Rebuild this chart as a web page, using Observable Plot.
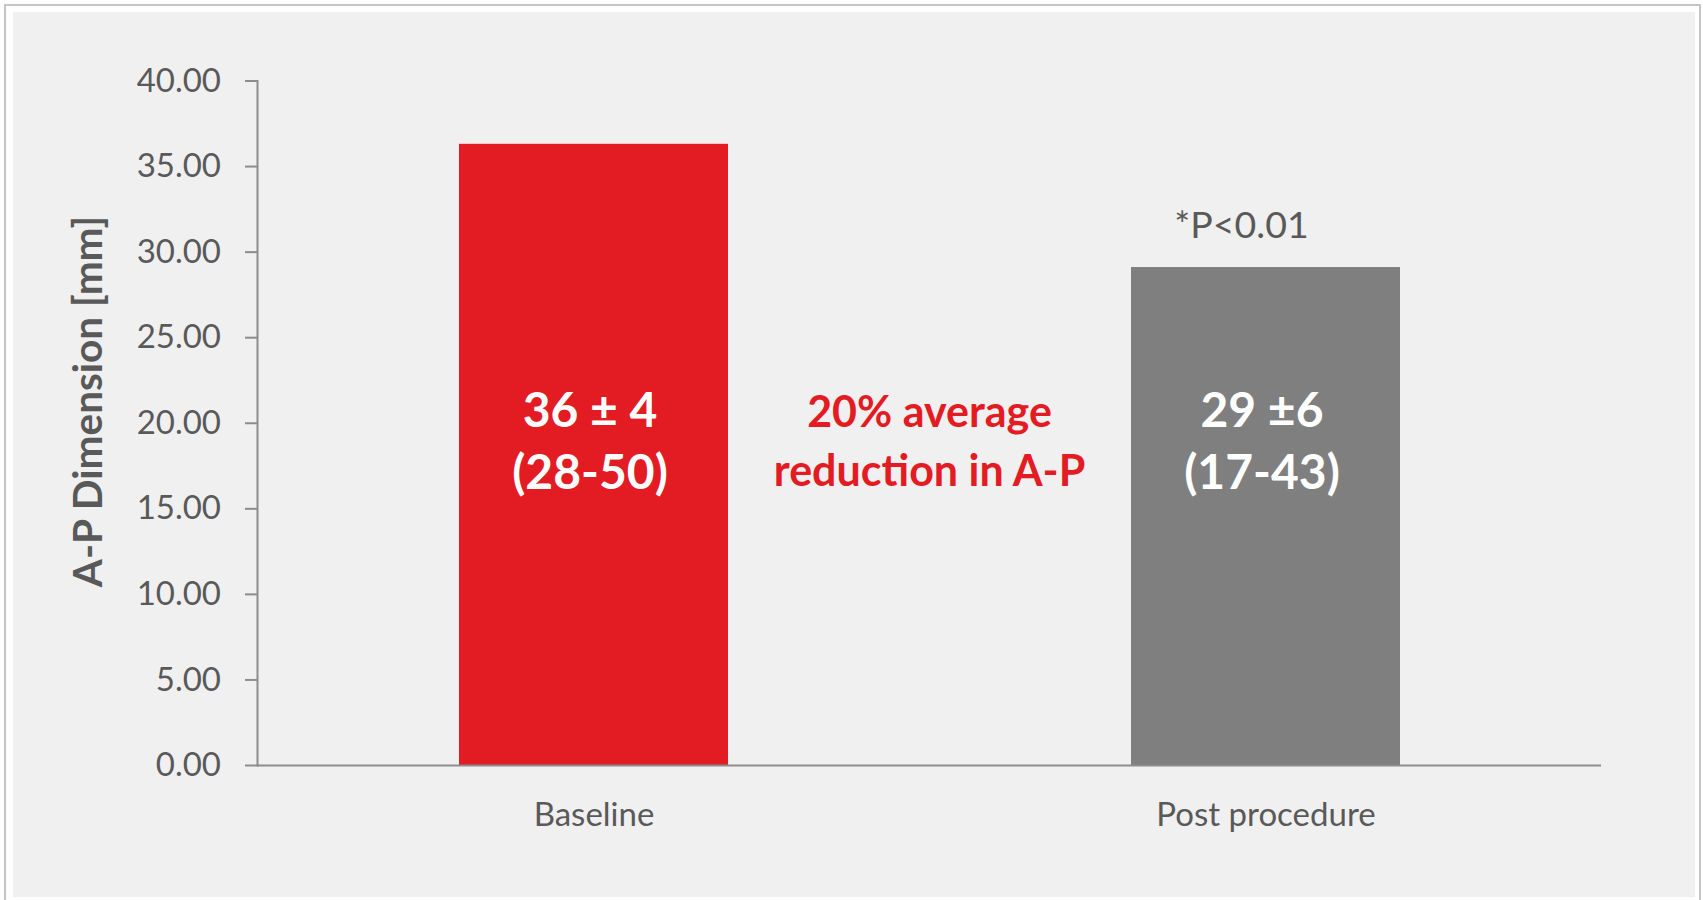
<!DOCTYPE html>
<html>
<head>
<meta charset="utf-8">
<script src="https://cdn.jsdelivr.net/npm/d3@7"></script>
<script src="https://cdn.jsdelivr.net/npm/@observablehq/plot@0.6"></script>
<style>
  html, body { margin: 0; padding: 0; background: #ffffff; }
  body { width: 1703px; height: 900px; overflow: hidden; position: relative; font-family: Lato, sans-serif; }
  #border { position: absolute; left: 4px; top: 4px; width: 1693px; height: 920px; border: 2px solid #c4c4c4; }
  #chart { position: absolute; left: 13px; top: 12px; }
</style>
</head>
<body>
<div id="border"></div>
<div id="chart"></div>
<script>
// Mean A-P dimension before and after the procedure
const categories = ["Baseline", "Post procedure"];
const meanValues = [36.3, 29.1];
const barLabels = ["36 ± 4\n(28-50)", "29 ±6\n(17-43)"];
const barColors = ["#e31b23", "#7f7f7f"];
const yTicks = [0, 5, 10, 15, 20, 25, 30, 35, 40];
const yTitle = "A-P Dimension [mm]";
const reductionNote = "20% average\nreduction in A-P";
const pValueNote = "*P<0.01";

const axisColor = "#8c8c8c";
const textColor = "#595959";
const red = "#e31b23";

const bars = categories.map((category, i) => ({
  category,
  value: meanValues[i],
  label: barLabels[i],
  color: barColors[i]
}));

const chart = Plot.plot({
  width: 1682,
  height: 885,
  marginLeft: 244,
  marginRight: 94,
  marginTop: 68.5,
  marginBottom: 132,
  style: { background: "#f0f0f0", fontFamily: "Lato, sans-serif", overflow: "visible" },
  x: { domain: categories, paddingInner: 0.6, paddingOuter: 0.3, label: null },
  y: { domain: [0, 40], label: null },
  color: { type: "identity" },
  marks: [
    Plot.barY(bars, { x: "category", y: "value", fill: "color" }),
    Plot.frame({ anchor: "left", stroke: axisColor, strokeWidth: 2 }),
    Plot.ruleY([0], { stroke: axisColor, strokeWidth: 2 }),
    Plot.axisY({
      ticks: yTicks, tickSize: 12, tickPadding: 24.5,
      tickFormat: d3.format(".2f"), fontSize: 33,
      stroke: axisColor, strokeWidth: 2, fill: textColor, label: null
    }),
    Plot.axisX({ tickSize: 0, tickPadding: 37, fontSize: 33, fill: textColor, label: null }),
    // value summaries inside the bars
    Plot.text(bars, {
      x: "category", y: () => 16.13, dx: -4, text: "label",
      fill: "#ffffff", fontWeight: "bold", fontSize: 48, lineHeight: 1.3, lineAnchor: "bottom"
    }),
    // reduction note between the bars
    Plot.text([reductionNote], {
      frameAnchor: "middle", y: () => 16.36, text: (d) => d,
      fill: red, fontWeight: "bold", fontSize: 43, lineHeight: 1.35, lineAnchor: "bottom"
    }),
    // significance above the post-procedure bar
    Plot.text([pValueNote], {
      x: () => categories[1], y: () => 30.8, dx: -24.5, text: (d) => d,
      fill: textColor, fontSize: 37.5, lineAnchor: "bottom"
    }),
    // y-axis title
    Plot.text([yTitle], {
      frameAnchor: "left", y: () => 21.27, dx: -168, rotate: -90, text: (d) => d,
      textAnchor: "middle", fill: textColor, fontWeight: "bold", fontSize: 40.5
    })
  ]
});

document.getElementById("chart").appendChild(chart);
</script>
</body>
</html>
